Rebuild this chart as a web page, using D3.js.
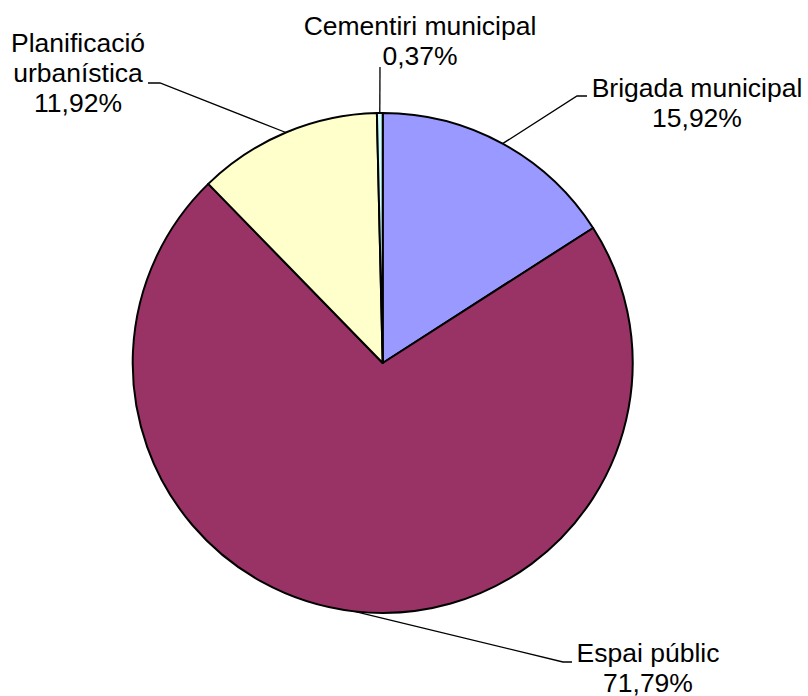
<!DOCTYPE html>
<html>
<head>
<meta charset="utf-8">
<script src="https://cdn.jsdelivr.net/npm/d3@7"></script>
<style>
  body { margin: 0; background: #fff; }
  text { font-family: "Liberation Sans", Arial, sans-serif; font-size: 26.5px; fill: #000; }
</style>
</head>
<body>
<script>
// data
let categories = ["Brigada municipal", "Espai públic", "Planificació urbanística", "Cementiri municipal"];
let shares = [15.92, 71.79, 11.92, 0.37];
let labelLines = [["Brigada municipal"], ["Espai públic"], ["Planificació", "urbanística"], ["Cementiri municipal"]];

let colors = ["#9999FF", "#993366", "#FFFFCC", "#CCFFFF"];

let width = 808;
let height = 696;
let cx = 382.7, cy = 363, radius = 250;

// label layout: elbow of leader, end of leader, text centre x, first baseline
let labelLayout = [
  { elbow: [577, 96], end: [587, 96], tx: 697, ty: 97 },
  { elbow: [563, 662], end: [572, 662], tx: 648, ty: 661.5 },
  { elbow: [160, 83], end: [148, 83], tx: 78, ty: 52 },
  { elbow: [380, 67], end: [380, 67], tx: 420, ty: 35 }
];
let lineGap = 30;

let locale = d3.formatLocale({ decimal: ",", thousands: ".", grouping: [3], currency: ["", "€"] });
let fmt = locale.format(".2f");

let svg = d3.select("body").append("svg")
  .attr("width", width)
  .attr("height", height);

let pie = d3.pie().sort(null).value(function(d){ return d; });
let arc = d3.arc().innerRadius(0).outerRadius(radius);
let arcs = pie(shares);

let g = svg.append("g").attr("transform", "translate(" + cx + "," + cy + ")");

g.selectAll(".slice")
  .data(arcs)
  .enter().append("path")
    .attr("class", "slice")
    .attr("d", arc)
    .style("fill", function(d, i){ return colors[i]; })
    .style("stroke", "#000")
    .style("stroke-width", 2)
    .style("stroke-linejoin", "round");

// leader lines
svg.selectAll(".leader")
  .data(arcs)
  .enter().append("polyline")
    .attr("class", "leader")
    .attr("points", function(d, i){
      let mid = (d.startAngle + d.endAngle) / 2;
      let p = d3.pointRadial(mid, radius);
      let L = labelLayout[i];
      return [[cx + p[0], cy + p[1]], L.elbow, L.end].map(function(q){ return q.join(","); }).join(" ");
    })
    .style("fill", "none")
    .style("stroke", "#000")
    .style("stroke-width", 1.3);

// labels
let labels = svg.selectAll(".label")
  .data(arcs)
  .enter().append("text")
    .attr("class", "label")
    .attr("text-anchor", "middle");

labels.each(function(d, i){
  let L = labelLayout[i];
  let lines = labelLines[i].concat([fmt(shares[i]) + "%"]);
  let t = d3.select(this);
  lines.forEach(function(s, k){
    t.append("tspan")
      .attr("x", L.tx)
      .attr("y", L.ty + k * lineGap)
      .text(s);
  });
});
</script>
</body>
</html>
